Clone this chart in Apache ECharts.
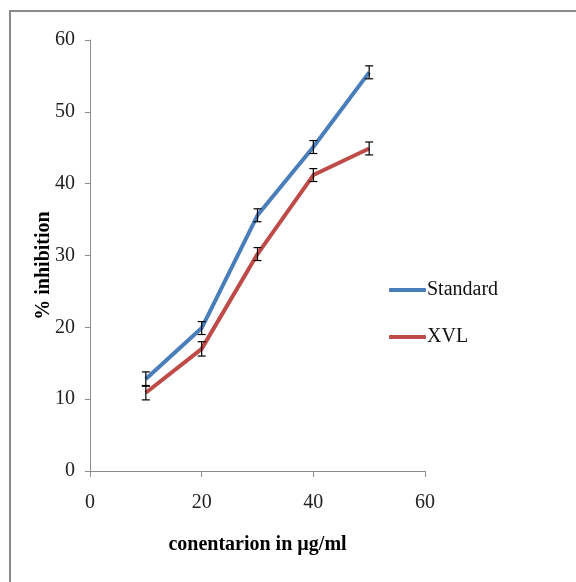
<!DOCTYPE html>
<html lang="en">
  <head>
    <meta charset="UTF-8" />
    <title>% inhibition</title>
    <script src="https://cdn.jsdelivr.net/npm/echarts@6/dist/echarts.min.js"></script>
    <style>
      html, body { margin: 0; padding: 0; background: #fff; }
      #chart { width: 576px; height: 582px; }
    </style>
  </head>
  <body>
    <div id="chart"></div>
  </body>
</html>
<script>
  // data
  const concentrations = [10, 20, 30, 40, 50];
  const standardValues = [12.8, 19.9, 35.6, 45.1, 55.5];
  const standardErrors = [1.0, 0.9, 0.9, 0.9, 0.9];
  const xvlValues = [10.9, 17.0, 30.2, 41.2, 44.9];
  const xvlErrors = [1.0, 1.0, 0.9, 0.9, 0.9];

  const FONT = "Liberation Serif";

  const chart = echarts.init(document.getElementById("chart"));

  function pairs(xs, ys) {
    return xs.map((x, i) => [x, ys[i]]);
  }
  function errRows(xs, ys, es) {
    return xs.map((x, i) => [x, ys[i] - es[i], ys[i] + es[i]]);
  }

  // error bar: vertical stem plus two caps
  function renderErr(params, api) {
    const lo = api.coord([api.value(0), api.value(1)]);
    const hi = api.coord([api.value(0), api.value(2)]);
    const w = 4;
    const style = { stroke: "#000", lineWidth: 1.2 };
    return {
      type: "group",
      children: [
        { type: "line", shape: { x1: lo[0], y1: lo[1], x2: hi[0], y2: hi[1] }, style },
        { type: "line", shape: { x1: lo[0] - w, y1: lo[1], x2: lo[0] + w, y2: lo[1] }, style },
        { type: "line", shape: { x1: hi[0] - w, y1: hi[1], x2: hi[0] + w, y2: hi[1] }, style },
      ],
    };
  }

  const axisText = { fontFamily: FONT, fontSize: 20, color: "#222" };

  const option = {
    backgroundColor: "#fff",
    animation: false,
    graphic: [
      {
        type: "rect",
        shape: { x: 10, y: 11, width: 600, height: 600 },
        style: { fill: "none", stroke: "#8a8a8a", lineWidth: 2 },
        silent: true,
      },
    ],
    grid: { left: 90, top: 40, right: 151, bottom: 111 },
    legend: {
      orient: "vertical",
      left: 384,
      top: 275,
      itemWidth: 37,
      itemHeight: 4,
      itemGap: 27,
      icon: "roundRect",
      textStyle: { fontFamily: FONT, fontSize: 20, color: "#111", padding: [0, 0, 0, -4] },
      data: ["Standard", "XVL"],
    },
    xAxis: {
      type: "value",
      min: 0,
      max: 60,
      interval: 20,
      name: "conentarion in µg/ml",
      nameLocation: "middle",
      nameGap: 64,
      nameTextStyle: { fontFamily: FONT, fontSize: 20, fontWeight: "bold", color: "#000" },
      axisLine: { lineStyle: { color: "#8c8c8c", width: 1 } },
      axisTick: { show: true, length: 6, lineStyle: { color: "#8c8c8c" } },
      axisLabel: Object.assign({ margin: 22 }, axisText),
      splitLine: { show: false },
    },
    yAxis: {
      type: "value",
      min: 0,
      max: 60,
      interval: 10,
      name: "% inhibition",
      nameLocation: "middle",
      nameGap: 36,
      nameMoveOverlap: false,
      nameRotate: 90,
      nameTextStyle: { fontFamily: FONT, fontSize: 20, fontWeight: "bold", color: "#000", padding: [0, 0, 0, -20] },
      axisLine: { show: true, lineStyle: { color: "#8c8c8c", width: 1 } },
      axisTick: { show: true, length: 5, lineStyle: { color: "#8c8c8c" } },
      axisLabel: Object.assign({ margin: 15 }, axisText),
      splitLine: { show: false },
    },
    series: [
      {
        name: "Standard",
        type: "line",
        data: pairs(concentrations, standardValues),
        symbol: "none",
        color: "#4A7EBB",
        lineStyle: { width: 4, color: "#4A7EBB" },
        itemStyle: { color: "#4A7EBB" },
        z: 2,
      },
      {
        name: "XVL",
        type: "line",
        data: pairs(concentrations, xvlValues),
        symbol: "none",
        color: "#BE4B48",
        lineStyle: { width: 4, color: "#BE4B48" },
        itemStyle: { color: "#BE4B48" },
        z: 2,
      },
      {
        type: "custom",
        renderItem: renderErr,
        data: errRows(concentrations, standardValues, standardErrors),
        encode: { x: 0, y: [1, 2] },
        z: 5,
        silent: true,
      },
      {
        type: "custom",
        renderItem: renderErr,
        data: errRows(concentrations, xvlValues, xvlErrors),
        encode: { x: 0, y: [1, 2] },
        z: 5,
        silent: true,
      },
    ],
  };
  chart.setOption(option);
</script>
